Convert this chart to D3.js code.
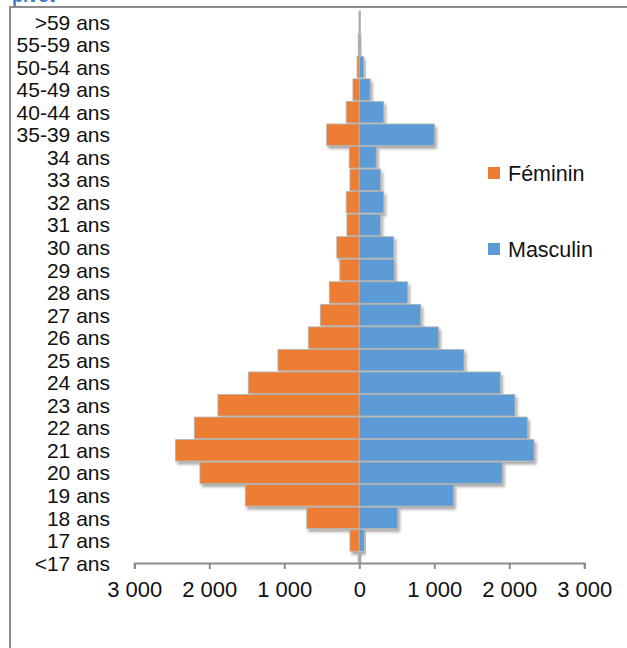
<!DOCTYPE html>
<html>
<head>
<meta charset="utf-8">
<script src="https://cdn.jsdelivr.net/npm/d3@7"></script>
<style>
  body { margin: 0; background: #fff; }
  text { font-family: "Liberation Sans", Arial, sans-serif; }
</style>
</head>
<body>
<div id="chart"></div>
<script>
var w = 627;
var h = 648;

// age groups, top to bottom
var ages = [">59 ans", "55-59 ans", "50-54 ans", "45-49 ans", "40-44 ans", "35-39 ans",
            "34 ans", "33 ans", "32 ans", "31 ans", "30 ans", "29 ans", "28 ans", "27 ans",
            "26 ans", "25 ans", "24 ans", "23 ans", "22 ans", "21 ans", "20 ans", "19 ans",
            "18 ans", "17 ans", "<17 ans"];
var feminin = [5, 15, 30, 85, 175, 435, 135, 125, 175, 165, 300, 260, 400, 520,
               680, 1085, 1480, 1885, 2200, 2450, 2125, 1520, 700, 125, 15];
var masculin = [15, 20, 60, 145, 325, 1000, 225, 285, 325, 285, 460, 465, 645, 820,
                1055, 1395, 1880, 2075, 2240, 2330, 1905, 1255, 510, 65, 20];
var ticks = [-3000, -2000, -1000, 0, 1000, 2000, 3000];
var series = ["Féminin", "Masculin"];
var colors = ["#ed7d31", "#5b9bd5"];

var axisY = 563;

var x = d3.scaleLinear()
          .domain([-3000, 3000])
          .range([134.3, 584.3]);

var y = d3.scaleBand()
          .domain(ages)
          .range([11.25, 573.75])
          .paddingInner(0.05);

var svg = d3.select("#chart")
            .append("svg")
            .attr("width", w)
            .attr("height", h);

var defs = svg.append("defs");

//Drop shadow like the office bars
var f = defs.append("filter")
            .attr("id", "shadow")
            .attr("x", "-20%").attr("y", "-20%")
            .attr("width", "150%").attr("height", "160%");
f.append("feGaussianBlur").attr("in", "SourceAlpha").attr("stdDeviation", 1.6).attr("result", "b");
f.append("feOffset").attr("in", "b").attr("dx", 2).attr("dy", 3).attr("result", "o");
f.append("feComponentTransfer").attr("in", "o").attr("result", "s")
 .append("feFuncA").attr("type", "linear").attr("slope", 0.35);
var m = f.append("feMerge");
m.append("feMergeNode").attr("in", "s");
m.append("feMergeNode").attr("in", "SourceGraphic");

defs.append("clipPath")
    .attr("id", "plot")
    .append("rect")
    .attr("x", 0).attr("y", 0)
    .attr("width", w).attr("height", axisY);

//Frame of the sheet
svg.append("line")
   .attr("x1", 10).attr("x2", w)
   .attr("y1", 7).attr("y2", 7)
   .style("stroke", "#8c8c8c").style("stroke-width", 2);
svg.append("line")
   .attr("x1", 10).attr("x2", 10)
   .attr("y1", 6).attr("y2", h)
   .style("stroke", "#8c8c8c").style("stroke-width", 2);

// sheet title, cut by the top edge as in the screenshot
svg.append("text")
   .attr("x", 12)
   .attr("y", 1.5)
   .style("font-size", "18px")
   .style("font-weight", "bold")
   .style("fill", "#3a7dc9")
   .text("pivot");

//Bars
var rows = ages.map(function(a, i) {
  return { age: a, f: feminin[i], m: masculin[i] };
});

var g = svg.append("g")
           .attr("clip-path", "url(#plot)");

g.selectAll("rect.fem")
 .data(rows)
 .enter()
 .append("rect")
 .attr("class", "fem")
 .attr("x", function(d) { return x(-d.f); })
 .attr("y", function(d) { return y(d.age); })
 .attr("width", function(d) { return x(0) - x(-d.f); })
 .attr("height", y.bandwidth())
 .style("fill", colors[0])
 .style("stroke", "#b4b4b4")
 .style("stroke-width", 0.8)
 .attr("filter", "url(#shadow)");

g.selectAll("rect.mas")
 .data(rows)
 .enter()
 .append("rect")
 .attr("class", "mas")
 .attr("x", x(0))
 .attr("y", function(d) { return y(d.age); })
 .attr("width", function(d) { return x(d.m) - x(0); })
 .attr("height", y.bandwidth())
 .style("fill", colors[1])
 .style("stroke", "#b4b4b4")
 .style("stroke-width", 0.8)
 .attr("filter", "url(#shadow)");

//Category labels
svg.selectAll("text.age")
   .data(ages)
   .enter()
   .append("text")
   .attr("class", "age")
   .attr("x", 110)
   .attr("y", function(d) { return y(d) + y.bandwidth() / 2; })
   .attr("dy", "0.36em")
   .style("text-anchor", "end")
   .style("font-size", "21px")
   .style("fill", "#111")
   .text(function(d) { return d; });

//Value axis
var fmt = function(v) { return d3.format(",")(Math.abs(v)).replace(/,/g, " "); };
var axis = svg.append("g")
              .attr("transform", "translate(0," + axisY + ")")
              .call(d3.axisBottom(x).tickValues(ticks).tickSize(6).tickPadding(12).tickFormat(fmt));
axis.select(".domain").style("stroke", "#8c8c8c").style("stroke-width", 2);
axis.selectAll(".tick line").style("stroke", "#8c8c8c").style("stroke-width", 2);
axis.selectAll(".tick text")
    .style("font-family", "'Liberation Sans', Arial, sans-serif")
    .style("font-size", "22px")
    .style("fill", "#111");

//Legend
var legend = svg.selectAll("g.legend")
                .data(series)
                .enter()
                .append("g")
                .attr("class", "legend")
                .attr("transform", function(d, i) { return "translate(488," + (173 + i * 76) + ")"; });
legend.append("rect")
      .attr("x", 0).attr("y", -6)
      .attr("width", 12).attr("height", 12)
      .style("fill", function(d, i) { return colors[i]; });
legend.append("text")
      .attr("x", 20)
      .attr("dy", "0.36em")
      .style("font-size", "21.5px")
      .style("fill", "#111")
      .text(function(d) { return d; });
</script>
</body>
</html>
